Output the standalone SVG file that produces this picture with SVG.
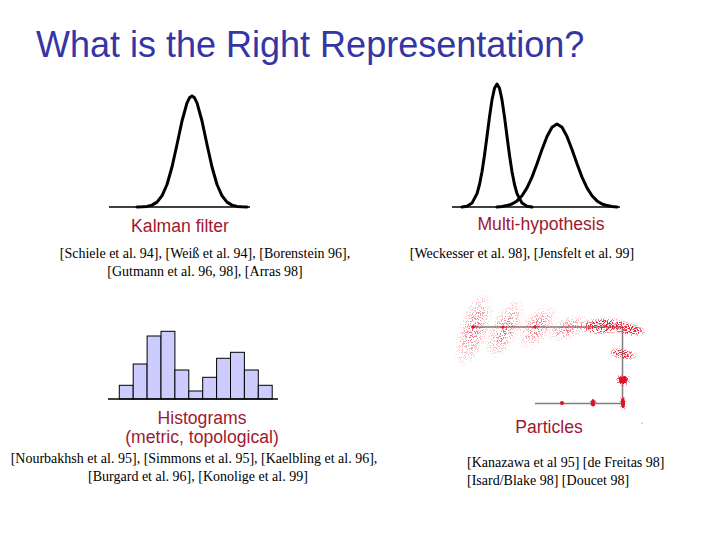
<svg xmlns="http://www.w3.org/2000/svg" width="720" height="540" viewBox="0 0 720 540">
<defs>
<style>
.title{font-family:"Liberation Sans",Arial,sans-serif;font-size:36px;fill:#3535a5}
.lbl{font-family:"Liberation Sans",Arial,sans-serif;font-size:17.6px;fill:#a0192f;text-anchor:middle}
.cit{font-family:"Liberation Serif","Times New Roman",serif;font-size:14px;fill:#000}
.mid{text-anchor:middle}
.curve{fill:none;stroke:#000;stroke-width:3;stroke-linejoin:round;stroke-linecap:round}
.axis{stroke:#000;stroke-width:1.5}
.bar{fill:#ccccff;stroke:#000;stroke-width:1}
.path{stroke:#808080;stroke-width:1.5;fill:none}
</style>
<radialGradient id="cloud">
<stop offset="0" stop-color="#000" stop-opacity="0.4"/>
<stop offset="0.45" stop-color="#000" stop-opacity="0.22"/>
<stop offset="1" stop-color="#000" stop-opacity="0"/>
</radialGradient>
<radialGradient id="dense">
<stop offset="0" stop-color="#000" stop-opacity="0.85"/>
<stop offset="0.55" stop-color="#000" stop-opacity="0.5"/>
<stop offset="1" stop-color="#000" stop-opacity="0"/>
</radialGradient>
<filter id="speckle" x="-20%" y="-20%" width="140%" height="140%" color-interpolation-filters="sRGB">
<feTurbulence type="fractalNoise" baseFrequency="0.8" numOctaves="2" seed="7" result="noise"/>
<feColorMatrix in="noise" type="matrix" values="0 0 0 0 0  0 0 0 0 0  0 0 0 0 0  6 0 0 0 -2.5" result="na"/>
<feComposite in="na" in2="SourceAlpha" operator="arithmetic" k1="0" k2="1" k3="1" k4="-1" result="t"/>
<feComponentTransfer in="t" result="t2"><feFuncA type="linear" slope="2" intercept="0"/></feComponentTransfer>
<feFlood flood-color="#e8243a" result="red"/>
<feComposite in="red" in2="t2" operator="in"/>
</filter>
</defs>
<rect width="720" height="540" fill="#fff"/>

<text class="title" x="36" y="57">What is the Right Representation?</text>

<g id="kalman">
<line class="axis" x1="109" y1="207" x2="250" y2="207"/>
<polyline class="curve" points="137,207 142,206.8 147,206.4 152,205.1 157,202.1 162,195.8 167,184.5 172,167 177,144.5 182,121 187,102.9 189.5,97.8 192,96 194.5,97.8 197,102.9 202,121 207,144.5 212,167 217,184.5 222,195.8 227,202.1 232,205.1 237,206.4 242,206.8 247,207"/>
<text class="lbl" x="180" y="232">Kalman filter</text>
<text class="cit mid" x="205" y="258">[Schiele et al. 94], [Weiß et al. 94], [Borenstein 96],</text>
<text class="cit mid" x="205" y="276">[Gutmann et al. 96, 98], [Arras 98]</text>
</g>

<g id="multi">
<line class="axis" x1="452" y1="207" x2="620" y2="207"/>
<polyline class="curve" points="462,207 467,206.2 472,203.1 477,193.6 479.5,184.5 482,171.7 484.5,155.2 487,136.3 489.5,116.9 492,99.9 494.5,88.2 497,84 499.5,88.2 502,99.9 504.5,116.9 507,136.3 509.5,155.2 512,171.7 514.5,184.5 517,193.6 522,203.1 527,206.2 532,207"/>
<polyline class="curve" points="497,207 502,206.4 507,205.6 512,204 517,200.9 522,195.8 527,187.9 532,177.1 537,163.8 542,149.5 547,136.5 552,127.3 557,124 562,127.3 567,136.5 572,149.5 577,163.8 582,177.1 587,187.9 592,195.8 597,200.9 602,204 607,205.6 612,206.4 617,207"/>
<text class="lbl" x="541" y="230">Multi-hypothesis</text>
<text class="cit mid" x="522" y="258">[Weckesser et al. 98], [Jensfelt et al. 99]</text>
</g>

<g id="histogram">
<rect class="bar" x="119.3" y="385.3" width="13.9" height="13.7"/>
<rect class="bar" x="133.2" y="364" width="13.9" height="35"/>
<rect class="bar" x="147.1" y="336" width="13.9" height="63"/>
<rect class="bar" x="161" y="331.3" width="13.9" height="67.7"/>
<rect class="bar" x="174.9" y="370" width="13.9" height="29"/>
<rect class="bar" x="188.8" y="391" width="13.9" height="8"/>
<rect class="bar" x="202.7" y="377.3" width="13.9" height="21.7"/>
<rect class="bar" x="216.6" y="358.3" width="13.9" height="40.7"/>
<rect class="bar" x="230.5" y="352.3" width="13.9" height="46.7"/>
<rect class="bar" x="244.4" y="370" width="13.9" height="29"/>
<rect class="bar" x="258.3" y="385.3" width="13.9" height="13.7"/>
<line class="axis" x1="108" y1="399" x2="278" y2="399"/>
<text class="lbl" x="202" y="424">Histograms</text>
<text class="lbl" x="202" y="443">(metric, topological)</text>
<text class="cit mid" x="194" y="463">[Nourbakhsh et al. 95], [Simmons et al. 95], [Kaelbling et al. 96],</text>
<text class="cit mid" x="198" y="481">[Burgard et al. 96], [Konolige et al. 99]</text>
</g>

<g id="particles">
<polyline class="path" points="473,327 622.5,327 622.5,403.5 535,403.5"/>
<g filter="url(#speckle)">
<ellipse cx="474" cy="329" rx="16" ry="42" transform="rotate(18 474 329)" fill="url(#cloud)"/>
<ellipse cx="505" cy="329" rx="15" ry="35" transform="rotate(28 505 329)" fill="url(#cloud)"/>
<ellipse cx="537" cy="327" rx="15" ry="28" transform="rotate(40 537 327)" fill="url(#cloud)"/>
<ellipse cx="568" cy="328" rx="23" ry="12" transform="rotate(-25 568 328)" fill="url(#cloud)"/>
<ellipse cx="603" cy="326" rx="27" ry="9" transform="rotate(-3 603 326)" fill="url(#dense)"/>
<ellipse cx="628" cy="329" rx="20" ry="7" transform="rotate(12 628 329)" fill="url(#dense)"/>
<ellipse cx="623" cy="354" rx="15" ry="6" transform="rotate(10 623 354)" fill="url(#dense)"/>
<ellipse cx="623" cy="380" rx="8" ry="7" fill="url(#dense)"/>
<ellipse cx="623" cy="403" rx="4" ry="8" fill="url(#dense)"/>
<ellipse cx="593" cy="403" rx="4" ry="5" fill="url(#dense)"/>
</g>
<g fill="#d8142a">
<circle cx="473" cy="327" r="1.8"/>
<circle cx="503" cy="327" r="1.6"/>
<circle cx="535" cy="327" r="1.6"/>
<ellipse cx="623" cy="380" rx="4" ry="3.5"/>
<ellipse cx="623" cy="403" rx="2" ry="5"/>
<ellipse cx="593" cy="403" rx="2.2" ry="3.5"/>
<circle cx="562" cy="403" r="2"/>
</g>
<rect x="641.5" y="422.5" width="1.2" height="1.2" fill="#999"/>
<text class="lbl" x="549" y="433">Particles</text>
<text class="cit" x="467" y="467">[Kanazawa et al 95] [de Freitas 98]</text>
<text class="cit" x="467" y="485">[Isard/Blake 98] [Doucet 98]</text>
</g>
</svg>
